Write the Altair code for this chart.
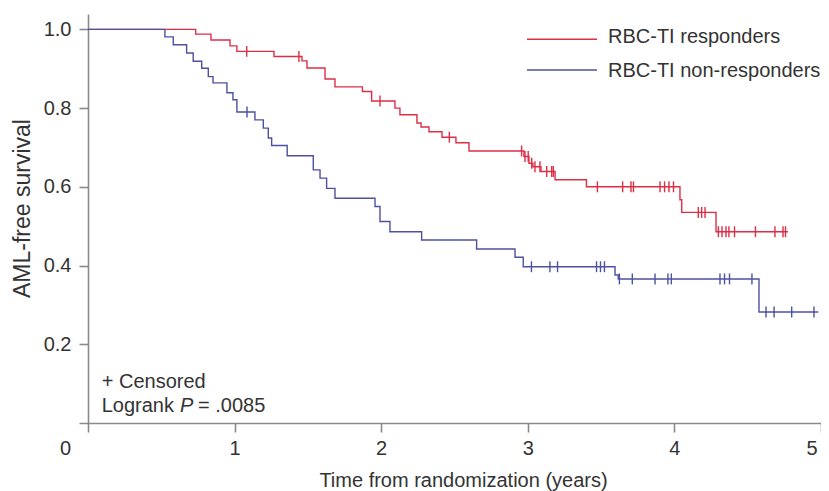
import altair as alt
import pandas as pd

groups = ["RBC-TI responders", "RBC-TI non-responders"]
colors = ["#dc2f45", "#4d519f"]

# RBC-TI responders: event times (years) and survival after each step
resp_event_t = [0.735, 0.839, 0.969, 1.016, 1.269, 1.460, 1.494, 1.617, 1.685, 1.872,
                1.935, 2.094, 2.128, 2.244, 2.272, 2.326, 2.415, 2.510, 2.599, 2.974,
                3.008, 3.035, 3.090, 3.186, 3.400, 4.038, 4.050, 4.284]
resp_event_s = [0.988, 0.973, 0.958, 0.944, 0.931, 0.920, 0.902, 0.874, 0.854, 0.842,
                0.818, 0.800, 0.783, 0.762, 0.752, 0.740, 0.726, 0.712, 0.691, 0.677,
                0.660, 0.651, 0.639, 0.618, 0.600, 0.567, 0.535, 0.486]
resp_end = 4.775
resp_censor_t = [1.083, 1.439, 1.992, 2.465, 2.958, 2.981, 3.003, 3.027, 3.049, 3.083,
                 3.129, 3.163, 3.174, 3.475, 3.647, 3.704, 3.721, 3.902, 3.933, 3.963,
                 3.994, 4.163, 4.186, 4.209, 4.300, 4.325, 4.352, 4.372, 4.410, 4.553,
                 4.686, 4.741, 4.758]

# RBC-TI non-responders
non_event_t = [0.525, 0.582, 0.673, 0.718, 0.776, 0.821, 0.853, 0.948, 0.989, 1.016,
               1.139, 1.196, 1.230, 1.253, 1.359, 1.537, 1.583, 1.628, 1.685, 1.958,
               1.992, 2.060, 2.276, 2.651, 2.913, 2.969, 3.595, 3.617, 4.577]
non_event_s = [0.981, 0.961, 0.940, 0.919, 0.901, 0.880, 0.864, 0.839, 0.821, 0.790,
               0.770, 0.749, 0.724, 0.705, 0.679, 0.643, 0.622, 0.596, 0.571, 0.550,
               0.512, 0.486, 0.465, 0.442, 0.421, 0.397, 0.376, 0.366, 0.282]
non_end = 4.982
non_censor_t = [1.085, 3.025, 3.151, 3.203, 3.469, 3.496, 3.523, 3.625, 3.713, 3.868,
                3.956, 3.979, 4.311, 4.342, 4.376, 4.529, 4.625, 4.680, 4.800, 4.952]

x_ticks = [0, 1, 2, 3, 4, 5]
y_ticks = [0.2, 0.4, 0.6, 0.8, 1.0]

FONT = "Liberation Sans"
TXT = "#333333"
AXC = "#8a8a8a"


def curve(group, ev_t, ev_s, end):
    rows = [{"t": 0.0, "s": 1.0, "group": group}]
    rows += [{"t": t, "s": s, "group": group} for t, s in zip(ev_t, ev_s)]
    rows.append({"t": end, "s": ev_s[-1], "group": group})
    return rows


def level(t, ev_t, ev_s):
    s = 1.0
    for et, es in zip(ev_t, ev_s):
        if et <= t:
            s = es
    return s


line_df = pd.DataFrame(curve(groups[0], resp_event_t, resp_event_s, resp_end)
                       + curve(groups[1], non_event_t, non_event_s, non_end))
cens_df = pd.DataFrame(
    [{"t": t, "s": level(t, resp_event_t, resp_event_s), "group": groups[0]} for t in resp_censor_t]
    + [{"t": t, "s": level(t, non_event_t, non_event_s), "group": groups[1]} for t in non_censor_t]
)

xscale = alt.Scale(domain=[-0.061, 5.0], nice=False, zero=False)
yscale = alt.Scale(domain=[0, 1.039], nice=False)
cscale = alt.Scale(domain=groups, range=colors)

x_enc = alt.X("t:Q", scale=xscale, axis=alt.Axis(
    values=x_ticks, format="d", title="Time from randomization (years)",
    titleX=384, titleY=63, titleBaseline="alphabetic", titleAnchor="start", titleAlign="center",
    labelOffset={"condition": [{"test": "datum.value == 0", "value": -23},
                               {"test": "datum.value == 5", "value": -4}], "value": 0},
    labelPadding=6, tickSize=9))
y_enc = alt.Y("s:Q", scale=yscale, axis=alt.Axis(
    values=y_ticks, format=".1f", title="AML-free survival", offset=-9,
    titleX=-59, titleY=194, titleBaseline="alphabetic", titleAngle=-90, titleAlign="center",
    titleFontSize=23, labelPadding=8, tickSize=9))

lines = alt.Chart(line_df).mark_line(interpolate="step-after", strokeWidth=1.4).encode(
    x=x_enc, y=y_enc,
    color=alt.Color("group:N", scale=cscale, legend=None),
    detail="group:N",
)

cens = alt.Chart(cens_df).mark_point(shape="M0,-1L0,1", size=120, strokeWidth=1.4,
                                     filled=False, opacity=1).encode(
    x="t:Q", y="s:Q", color=alt.Color("group:N", scale=cscale, legend=None))

layers = [lines, cens]

# legend drawn by hand
leg_y = [25.3, 56.0]
leg_text_y = [29.3, 63.3]
for i, g in enumerate(groups):
    one = pd.DataFrame({"label": [g]})
    layers.append(alt.Chart(one).mark_rule(strokeWidth=1.4, color=colors[i]).encode(
        x=alt.value(448), x2=alt.value(518), y=alt.value(leg_y[i])))
    layers.append(alt.Chart(one).mark_text(align="left", baseline="alphabetic", font=FONT,
                                           fontSize=20, color=TXT).encode(
        x=alt.value(529), y=alt.value(leg_text_y[i]), text="label:N"))

note1 = pd.DataFrame({"label": ["+ Censored"]})
layers.append(alt.Chart(note1).mark_text(align="left", baseline="alphabetic", font=FONT,
                                         fontSize=20, color=TXT).encode(
    x=alt.value(22.7), y=alt.value(373.7), text="label:N"))
note2 = pd.DataFrame({"a": ["Logrank"], "p": ["P"], "v": ["= .0085"]})
layers.append(alt.Chart(note2).mark_text(align="left", baseline="alphabetic", font=FONT,
                                         fontSize=20, color=TXT).encode(
    x=alt.value(22.7), y=alt.value(398.3), text="a:N"))
layers.append(alt.Chart(note2).mark_text(align="left", baseline="alphabetic", font=FONT,
                                         fontSize=20, fontStyle="italic", color=TXT).encode(
    x=alt.value(101), y=alt.value(398.3), text="p:N"))
layers.append(alt.Chart(note2).mark_text(align="left", baseline="alphabetic", font=FONT,
                                         fontSize=20, color=TXT).encode(
    x=alt.value(119), y=alt.value(398.3), text="v:N"))

chart = alt.layer(*layers).properties(
    width=742, height=409,
    padding={"left": 71, "top": 6, "right": 0, "bottom": 68},
    autosize=alt.AutoSizeParams(type="none"),
).configure_view(stroke=None).configure_axis(
    grid=False, domainColor=AXC, domainWidth=1.6, tickColor=AXC, tickWidth=1.6,
    labelFont=FONT, labelFontSize=20, labelColor=TXT,
    titleFont=FONT, titleFontSize=20, titleColor=TXT, titleFontWeight="normal",
)

chart.save("out.html", embed_options={"renderer": "svg", "actions": False})
